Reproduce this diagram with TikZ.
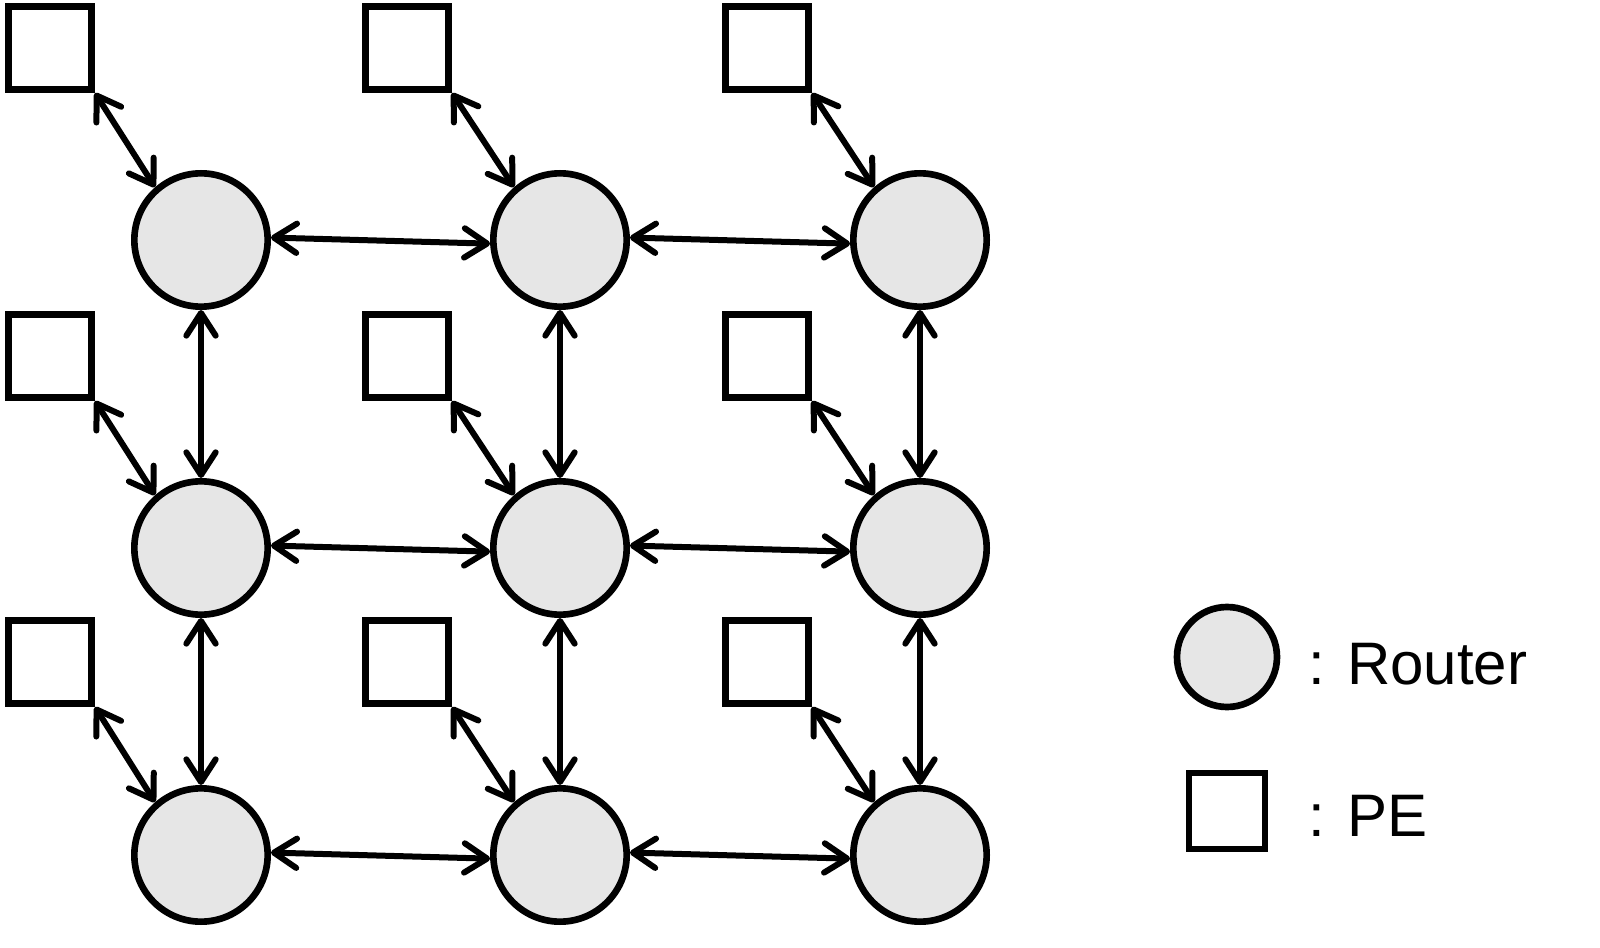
\documentclass[tikz,border=0pt]{standalone}
\usepackage{fontspec}
\setmainfont{Liberation Sans}
\usetikzlibrary{arrows.meta}
\definecolor{routerfill}{HTML}{E6E6E6}
\begin{document}
\begin{tikzpicture}[x=0.75pt,y=-0.75pt,
  router/.style={circle,draw,line width=5pt,fill=routerfill,minimum size=100pt,inner sep=0pt},
  pe/.style={rectangle,draw,line width=5pt,minimum size=62.5pt,inner sep=0pt},
  barb/.tip={Straight Barb[length=17pt,width=22pt,line cap=round,line join=round]},
  link/.style={line width=4.5pt,barb-barb},
  legtext/.style={anchor=base west,font=\fontsize{45}{54}\selectfont,inner sep=0pt}]
\useasboundingbox (0,0) rectangle (1600,948);
% routers
\foreach \c/\x in {1/201,2/560,3/920}{
  \foreach \r/\y in {1/240,2/548,3/855}{
    \node[router] (r-\r-\c) at (\x,\y) {};
  }
}
% PEs
\foreach \c/\x in {1/50,2/407,3/767}{
  \foreach \r/\y in {1/48,2/356,3/662}{
    \node[pe] (p-\r-\c) at (\x,\y) {};
  }
}
% PE-router links
\foreach \r in {1,2,3}{
  \foreach \c in {1,2,3}{
    \draw[link] (p-\r-\c.south east) -- (r-\r-\c.131);
  }
}
% horizontal links
\foreach \r in {1,2,3}{
  \draw[link] (r-\r-1.2) -- (r-\r-2.183);
  \draw[link] (r-\r-2.2) -- (r-\r-3.183);
}
% vertical links
\foreach \c in {1,2,3}{
  \draw[link] (r-1-\c) -- (r-2-\c);
  \draw[link] (r-2-\c) -- (r-3-\c);
}
% legend
\node[router,minimum size=75pt] (lr) at (1227,657) {};
\node[pe,minimum size=57pt] (lp) at (1227,811) {};
\node[legtext] (lrt) at (1308,684) {: Router};
\node[legtext] (lpt) at (1308,836) {: PE};
\end{tikzpicture}
\end{document}
